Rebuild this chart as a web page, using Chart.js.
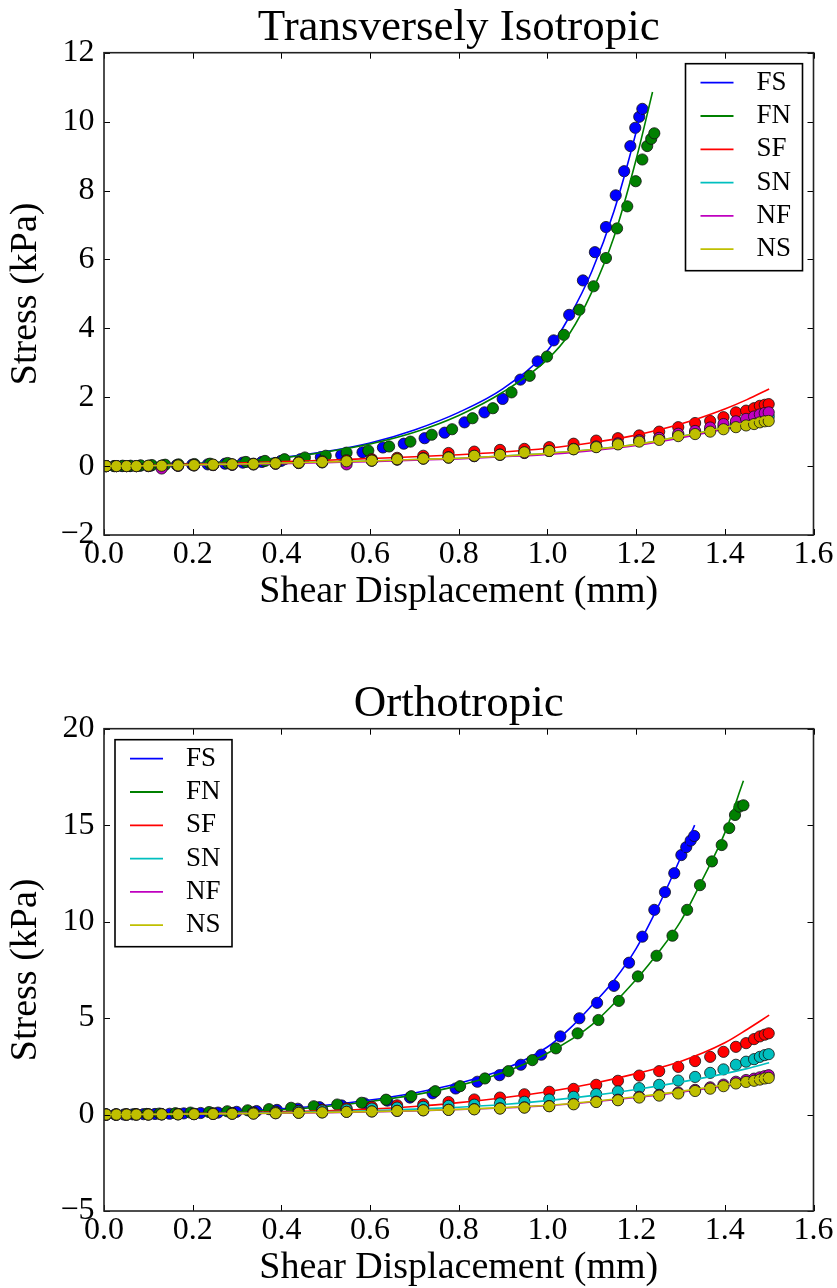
<!DOCTYPE html>
<html>
<head>
<meta charset="utf-8">
<title>Shear tests</title>
<script src="https://cdn.jsdelivr.net/npm/chart.js@4.4.1/dist/chart.umd.min.js"></script>
<style>
  html, body { margin: 0; padding: 0; background: #fff; }
  #wrap { position: relative; width: 837px; height: 1288px; overflow: hidden; }
  #tiChart { position: absolute; left: 0; top: 0; }
  #orChart { position: absolute; left: 0; top: 676px; }
</style>
</head>
<body>
<div id="wrap">
  <canvas id="tiChart" width="837" height="676"></canvas>
  <canvas id="orChart" width="837" height="612"></canvas>
</div>
<script>
// ---- data ----
const seriesNames = ["FS", "FN", "SF", "SN", "NF", "NS"];

// shared displacement samples for SF, SN, NF, NS (mm)
const shearGrid = [0.005, 0.028, 0.051, 0.073, 0.100, 0.130, 0.167, 0.203, 0.246, 0.289, 0.337, 0.387, 0.439, 0.492, 0.547, 0.604, 0.661, 0.720, 0.777, 0.835, 0.893, 0.948, 1.004, 1.059, 1.110, 1.159, 1.207, 1.252, 1.295, 1.333, 1.367, 1.397, 1.425, 1.448, 1.466, 1.479, 1.490, 1.499];
const fitGrid = [0, 0.1, 0.2, 0.3, 0.4, 0.5, 0.6, 0.7, 0.8, 0.9, 1.0, 1.1, 1.2, 1.3, 1.4, 1.45, 1.5];

// Transversely isotropic
const tiFsX = [0.004, 0.023, 0.041, 0.059, 0.081, 0.105, 0.135, 0.164, 0.199, 0.234, 0.273, 0.313, 0.356, 0.399, 0.443, 0.489, 0.535, 0.583, 0.629, 0.676, 0.723, 0.768, 0.813, 0.858, 0.899, 0.939, 0.978, 1.014, 1.049, 1.080, 1.107, 1.132, 1.154, 1.173, 1.187, 1.198, 1.207, 1.214];
const tiFsY = [0, 0, 0, 0, 0.01, 0.01, 0.02, 0.03, 0.04, 0.05, 0.07, 0.10, 0.12, 0.15, 0.20, 0.26, 0.32, 0.40, 0.54, 0.65, 0.81, 0.97, 1.27, 1.56, 1.95, 2.51, 3.04, 3.65, 4.39, 5.39, 6.21, 6.94, 7.86, 8.56, 9.29, 9.82, 10.14, 10.37];
const tiFnX = [0.004, 0.023, 0.042, 0.060, 0.083, 0.108, 0.138, 0.168, 0.204, 0.239, 0.279, 0.320, 0.363, 0.407, 0.453, 0.500, 0.547, 0.596, 0.643, 0.691, 0.739, 0.785, 0.831, 0.877, 0.919, 0.960, 0.999, 1.037, 1.072, 1.104, 1.132, 1.157, 1.180, 1.199, 1.214, 1.225, 1.234, 1.241];
const tiFnY = [0, 0, 0.01, 0.01, 0.02, 0.03, 0.04, 0.05, 0.06, 0.07, 0.09, 0.12, 0.15, 0.20, 0.25, 0.30, 0.39, 0.45, 0.57, 0.71, 0.91, 1.07, 1.39, 1.68, 2.14, 2.62, 3.18, 3.81, 4.54, 5.22, 6.04, 6.90, 7.54, 8.27, 8.90, 9.29, 9.50, 9.66];
const tiSfY = [0, 0, 0, 0, 0.01, 0.01, 0.02, 0.03, 0.04, 0.05, 0.07, 0.09, 0.11, 0.14, 0.17, 0.20, 0.24, 0.30, 0.38, 0.42, 0.47, 0.50, 0.55, 0.65, 0.74, 0.81, 0.89, 1.00, 1.13, 1.25, 1.31, 1.42, 1.56, 1.61, 1.68, 1.75, 1.78, 1.80];
const tiSnY = [0, 0, 0, 0, 0, 0.01, 0.01, 0.02, 0.03, 0.04, 0.05, 0.07, 0.09, 0.11, 0.13, 0.16, 0.19, 0.22, 0.25, 0.29, 0.33, 0.39, 0.44, 0.49, 0.56, 0.64, 0.73, 0.79, 0.90, 0.97, 1.05, 1.14, 1.21, 1.27, 1.33, 1.38, 1.42, 1.44];
const tiNfY = [0, 0, 0, 0, 0, -0.07, 0.01, 0.02, 0.03, 0.04, 0.05, 0.07, 0.09, 0.11, 0.05, 0.16, 0.19, 0.22, 0.25, 0.29, 0.33, 0.38, 0.44, 0.50, 0.57, 0.66, 0.75, 0.82, 0.94, 1.02, 1.12, 1.22, 1.30, 1.37, 1.44, 1.50, 1.54, 1.56];
const tiNsY = [0, 0, 0, 0, 0.01, 0.01, 0.02, 0.03, 0.04, 0.05, 0.06, 0.08, 0.10, 0.12, 0.14, 0.16, 0.20, 0.22, 0.25, 0.30, 0.33, 0.40, 0.44, 0.49, 0.55, 0.63, 0.71, 0.76, 0.87, 0.93, 1.00, 1.07, 1.13, 1.18, 1.22, 1.27, 1.30, 1.31];

const tiFsFitX = [0, 0.1, 0.2, 0.3, 0.4, 0.5, 0.6, 0.7, 0.8, 0.9, 1.0, 1.05, 1.1, 1.15, 1.2, 1.214];
const tiFsFit = [0, 0.03, 0.07, 0.14, 0.25, 0.42, 0.67, 1.05, 1.56, 2.25, 3.35, 4.35, 5.65, 7.4, 9.7, 10.45];
const tiFnFitX = [0, 0.1, 0.2, 0.3, 0.4, 0.5, 0.6, 0.7, 0.8, 0.9, 1.0, 1.05, 1.1, 1.15, 1.2, 1.237];
const tiFnFit = [0, 0.03, 0.07, 0.14, 0.24, 0.41, 0.64, 0.98, 1.47, 2.15, 3.1, 3.85, 5.05, 6.65, 8.9, 10.86];
const tiSfFit = [0, 0.02, 0.06, 0.09, 0.13, 0.17, 0.22, 0.27, 0.33, 0.41, 0.52, 0.68, 0.90, 1.22, 1.66, 1.93, 2.24];
const tiSnFit = [0, 0.01, 0.04, 0.06, 0.09, 0.12, 0.15, 0.19, 0.23, 0.29, 0.37, 0.48, 0.63, 0.86, 1.12, 1.27, 1.44];
const tiNfFit = [0, 0.01, 0.03, 0.05, 0.07, 0.10, 0.13, 0.17, 0.21, 0.27, 0.34, 0.45, 0.60, 0.82, 1.08, 1.23, 1.40];
const tiNsFit = [0, 0.01, 0.04, 0.06, 0.09, 0.12, 0.15, 0.19, 0.23, 0.29, 0.37, 0.48, 0.63, 0.86, 1.12, 1.27, 1.44];

// Orthotropic
const orFsX = [0.004, 0.025, 0.045, 0.065, 0.089, 0.115, 0.148, 0.180, 0.218, 0.257, 0.299, 0.344, 0.390, 0.437, 0.486, 0.536, 0.587, 0.639, 0.690, 0.741, 0.793, 0.842, 0.892, 0.940, 0.986, 1.029, 1.072, 1.112, 1.150, 1.184, 1.214, 1.241, 1.265, 1.286, 1.302, 1.313, 1.323, 1.331];
const orFsY = [0, 0, 0, 0.01, 0.02, 0.03, 0.04, 0.06, 0.08, 0.10, 0.14, 0.18, 0.24, 0.30, 0.38, 0.47, 0.58, 0.72, 0.88, 1.10, 1.35, 1.70, 2.04, 2.58, 3.10, 4.05, 4.99, 5.79, 6.67, 7.87, 9.22, 10.61, 11.53, 12.51, 13.45, 13.86, 14.2, 14.44];
const orFnX = [0.005, 0.027, 0.049, 0.070, 0.096, 0.125, 0.161, 0.195, 0.237, 0.278, 0.324, 0.372, 0.422, 0.473, 0.526, 0.581, 0.636, 0.693, 0.747, 0.803, 0.859, 0.912, 0.966, 1.019, 1.068, 1.115, 1.161, 1.204, 1.246, 1.282, 1.315, 1.344, 1.371, 1.393, 1.410, 1.423, 1.433, 1.442];
const orFnY = [0, 0, 0.01, 0.02, 0.03, 0.05, 0.07, 0.10, 0.13, 0.17, 0.22, 0.28, 0.35, 0.43, 0.52, 0.61, 0.77, 0.95, 1.21, 1.47, 1.87, 2.25, 2.82, 3.43, 4.21, 4.90, 5.89, 7.16, 8.23, 9.27, 10.61, 11.89, 13.12, 13.97, 14.85, 15.53, 15.96, 16.03];
const orSfY = [0, 0, 0, 0.01, 0.01, 0.02, 0.03, 0.04, 0.06, 0.08, 0.11, 0.15, 0.19, 0.25, 0.32, 0.40, 0.48, 0.53, 0.65, 0.78, 0.88, 1.05, 1.18, 1.33, 1.54, 1.75, 2.02, 2.25, 2.47, 2.77, 2.99, 3.25, 3.51, 3.70, 3.91, 4.05, 4.14, 4.21];
const orSnY = [0, 0, 0, 0, 0.01, 0.01, 0.02, 0.03, 0.05, 0.06, 0.09, 0.12, 0.16, 0.21, 0.26, 0.31, 0.36, 0.40, 0.45, 0.51, 0.58, 0.66, 0.78, 0.92, 1.06, 1.20, 1.37, 1.54, 1.76, 1.95, 2.16, 2.34, 2.58, 2.74, 2.87, 2.99, 3.08, 3.13];
const orNfY = [0, 0, 0, 0, 0, 0.01, 0.01, 0.02, 0.03, 0.04, 0.05, 0.07, 0.09, 0.11, 0.14, 0.16, 0.19, 0.22, 0.25, 0.28, 0.32, 0.37, 0.44, 0.55, 0.67, 0.77, 0.92, 1.02, 1.14, 1.28, 1.41, 1.55, 1.70, 1.79, 1.86, 1.93, 1.99, 2.04];
const orNsY = [0, 0, 0, 0, 0, 0.01, 0.01, 0.02, 0.03, 0.04, 0.05, 0.07, 0.09, 0.11, 0.14, 0.16, 0.19, 0.22, 0.24, 0.27, 0.31, 0.36, 0.43, 0.53, 0.65, 0.74, 0.88, 0.98, 1.09, 1.22, 1.34, 1.47, 1.61, 1.69, 1.75, 1.81, 1.87, 1.90];

const orFsFitX = [0, 0.1, 0.2, 0.3, 0.4, 0.5, 0.6, 0.7, 0.8, 0.9, 1.0, 1.05, 1.1, 1.15, 1.2, 1.25, 1.3, 1.332];
const orFsFit = [0, 0.03, 0.08, 0.17, 0.3, 0.48, 0.75, 1.12, 1.62, 2.33, 3.5, 4.45, 5.65, 6.95, 8.6, 10.8, 13.3, 15.0];
const orFnFitX = [0, 0.1, 0.2, 0.3, 0.4, 0.5, 0.6, 0.7, 0.8, 0.9, 1.0, 1.1, 1.2, 1.25, 1.3, 1.35, 1.4, 1.442];
const orFnFit = [0, 0.03, 0.07, 0.14, 0.25, 0.42, 0.68, 1.02, 1.5, 2.18, 3.18, 4.65, 7.0, 8.4, 10.0, 12.2, 14.6, 17.3];
const orSfFit = [0, 0.02, 0.05, 0.09, 0.14, 0.20, 0.28, 0.42, 0.62, 0.87, 1.18, 1.60, 2.12, 2.75, 3.72, 4.41, 5.15];
const orSnFit = [0, 0.01, 0.04, 0.07, 0.10, 0.14, 0.20, 0.28, 0.38, 0.52, 0.72, 0.98, 1.30, 1.68, 2.12, 2.38, 2.68];
const orNfFit = [0, 0.01, 0.03, 0.05, 0.07, 0.10, 0.14, 0.19, 0.26, 0.34, 0.46, 0.65, 0.88, 1.16, 1.50, 1.70, 1.93];
const orNsFit = [0, 0.01, 0.03, 0.05, 0.08, 0.11, 0.15, 0.20, 0.27, 0.36, 0.48, 0.68, 0.92, 1.20, 1.54, 1.74, 1.97];

// ---- styling ----
const FONT = "'Liberation Serif', 'Times New Roman', serif";
const COLORS = { FS: "#0000ff", FN: "#008000", SF: "#ff0000", SN: "#00bfbf", NF: "#bf00bf", NS: "#bfbf00" };

Chart.defaults.font.family = FONT;
Chart.defaults.color = "#000";

function pairs(xs, ys) {
  return xs.map((x, i) => ({ x: x, y: ys[i] }));
}

function buildDatasets(series) {
  const sets = [];
  series.forEach(s => {
    sets.push({
      label: s.name + " data",
      data: pairs(s.x, s.y),
      showLine: false,
      pointRadius: 5.6,
      pointHoverRadius: 5.6,
      pointBackgroundColor: COLORS[s.name],
      pointBorderColor: "#111",
      pointBorderWidth: 0.8,
      isFit: false
    });
    sets.push({
      label: s.name,
      data: pairs(s.fitX, s.fit),
      showLine: true,
      pointRadius: 0,
      borderColor: COLORS[s.name],
      borderWidth: 1.6,
      cubicInterpolationMode: "monotone",
      isFit: true
    });
  });
  // later series are painted on top, as in the original figure
  sets.forEach((d, i) => { d.order = sets.length - i; });
  return sets;
}

// box frame + inward ticks on all four sides
const framePlugin = {
  id: "frame",
  afterDatasetsDraw(chart) {
    const { ctx, chartArea: a, scales } = chart;
    const len = 6;
    ctx.save();
    ctx.strokeStyle = "#000";
    ctx.lineWidth = 1;
    ctx.beginPath();
    scales.x.ticks.forEach(t => {
      const px = Math.round(scales.x.getPixelForValue(t.value)) + 0.5;
      ctx.moveTo(px, a.bottom); ctx.lineTo(px, a.bottom - len);
      ctx.moveTo(px, a.top); ctx.lineTo(px, a.top + len);
    });
    scales.y.ticks.forEach(t => {
      const py = Math.round(scales.y.getPixelForValue(t.value)) + 0.5;
      ctx.moveTo(a.left, py); ctx.lineTo(a.left + len, py);
      ctx.moveTo(a.right, py); ctx.lineTo(a.right - len, py);
    });
    ctx.stroke();
    ctx.strokeStyle = "#222";
    ctx.lineWidth = 1.6;
    ctx.strokeRect(a.left, a.top, a.right - a.left, a.bottom - a.top);
    ctx.restore();
  }
};

// matplotlib-like legend box with line samples
const boxLegendPlugin = {
  id: "boxLegend",
  afterDraw(chart, args, opts) {
    const { ctx, chartArea: a } = chart;
    const w = 117, h = 207;
    const left = opts.side === "right" ? a.right - 11 - w : a.left + 11;
    const top = a.top + 11;
    ctx.save();
    ctx.fillStyle = "#fff";
    ctx.fillRect(left, top, w, h);
    ctx.strokeStyle = "#000";
    ctx.lineWidth = 1.6;
    ctx.strokeRect(left, top, w, h);
    ctx.font = "27px " + FONT;
    ctx.textBaseline = "middle";
    ctx.textAlign = "left";
    chart.data.datasets.filter(d => d.isFit).forEach((d, i) => {
      const cy = top + 19 + i * 33.3;
      ctx.strokeStyle = d.borderColor;
      ctx.lineWidth = 1.8;
      ctx.beginPath();
      ctx.moveTo(left + 15, cy);
      ctx.lineTo(left + 48, cy);
      ctx.stroke();
      ctx.fillStyle = "#000";
      ctx.fillText(d.label, left + 71, cy);
    });
    ctx.restore();
  }
};

function minusLabel(v) {
  return (v < 0 ? "\u2212" : "") + Math.abs(v);
}

function makeChart(canvasId, title, series, yMin, yMax, yStep, legendSide, padBottom) {
  const ctx = document.getElementById(canvasId).getContext("2d");
  return new Chart(ctx, {
    type: "scatter",
    data: { datasets: buildDatasets(series) },
    options: {
      responsive: false,
      animation: false,
      events: [],
      layout: { padding: { left: 0, right: 22, top: 0, bottom: padBottom } },
      plugins: {
        legend: { display: false },
        tooltip: { enabled: false },
        title: {
          display: true,
          text: title,
          fullSize: false,
          color: "#000",
          font: { family: FONT, size: 45, weight: "normal", lineHeight: 1 },
          padding: { top: 5.6, bottom: 2.1 }
        },
        boxLegend: { side: legendSide }
      },
      scales: {
        x: {
          type: "linear",
          min: 0,
          max: 1.6,
          grid: { display: false, drawTicks: false, tickLength: 0 },
          border: { display: false },
          ticks: {
            stepSize: 0.2,
            padding: 3.5,
            color: "#000",
            maxRotation: 0,
            autoSkip: false,
            font: { family: FONT, size: 32, lineHeight: 1 },
            callback: v => v.toFixed(1)
          },
          title: {
            display: true,
            text: "Shear Displacement (mm)",
            color: "#000",
            font: { family: FONT, size: 38, lineHeight: 1 },
            padding: { top: 0, bottom: 0 }
          },
          afterFit: s => { s.height = 76; }
        },
        y: {
          type: "linear",
          min: yMin,
          max: yMax,
          grid: { display: false, drawTicks: false, tickLength: 0 },
          border: { display: false },
          ticks: {
            stepSize: yStep,
            padding: 9.5,
            color: "#000",
            autoSkip: false,
            font: { family: FONT, size: 32, lineHeight: 1 },
            callback: minusLabel
          },
          title: {
            display: true,
            text: "Stress (kPa)",
            color: "#000",
            font: { family: FONT, size: 38, lineHeight: 1 },
            padding: { top: 7, bottom: 0 }
          },
          afterFit: s => { s.width = 104; }
        }
      }
    },
    plugins: [framePlugin, boxLegendPlugin]
  });
}

const tiSeries = [
  { name: "FS", x: tiFsX, y: tiFsY, fitX: tiFsFitX, fit: tiFsFit },
  { name: "FN", x: tiFnX, y: tiFnY, fitX: tiFnFitX, fit: tiFnFit },
  { name: "SF", x: shearGrid, y: tiSfY, fitX: fitGrid, fit: tiSfFit },
  { name: "SN", x: shearGrid, y: tiSnY, fitX: fitGrid, fit: tiSnFit },
  { name: "NF", x: shearGrid, y: tiNfY, fitX: fitGrid, fit: tiNfFit },
  { name: "NS", x: shearGrid, y: tiNsY, fitX: fitGrid, fit: tiNsFit }
];

const orSeries = [
  { name: "FS", x: orFsX, y: orFsY, fitX: orFsFitX, fit: orFsFit },
  { name: "FN", x: orFnX, y: orFnY, fitX: orFnFitX, fit: orFnFit },
  { name: "SF", x: shearGrid, y: orSfY, fitX: fitGrid, fit: orSfFit },
  { name: "SN", x: shearGrid, y: orSnY, fitX: fitGrid, fit: orSnFit },
  { name: "NF", x: shearGrid, y: orNfY, fitX: fitGrid, fit: orNfFit },
  { name: "NS", x: shearGrid, y: orNsY, fitX: fitGrid, fit: orNsFit }
];

makeChart("tiChart", "Transversely Isotropic", tiSeries, -2, 12, 2, "right", 676 - 535 - 76);
makeChart("orChart", "Orthotropic", orSeries, -5, 20, 5, "left", 612 - 535 - 76);
</script>
</body>
</html>
